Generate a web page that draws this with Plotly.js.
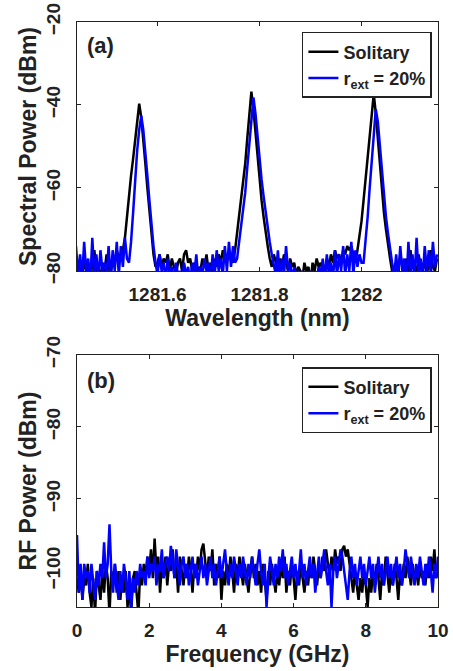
<!DOCTYPE html>
<html>
<head>
<meta charset="utf-8">
<script src="https://cdn.plot.ly/plotly-3.0.1.min.js"></script>
<style>html,body{margin:0;padding:0;background:#fff;}#plot{width:453px;height:671px;}</style>
</head>
<body>
<div id="plot"></div>
<script>
// ---------- Panel (a): optical spectrum ----------
const wlStart = 1281.44;   // nm, first sample
const wlStep = 0.004;      // nm per sample
const wlTickVals = [1281.6, 1281.8, 1282];
const wlTickText = ['1281.6', '1281.8', '1282'];

const specSolitary = [
-76,-80,-78,-82,-77,-80,-79,-83,-78,-75,-80,-79,-82,-78,-80,-76,-79,-81,-77,-78,-75,-77,
-77,-75,-72,-67,-61,-57,-53,-48,-43,-39.7,-43,-48,-54,-60,-65,-71,-76,-79,
-78,-76,-79,-77,-78,-76,-80,-77,-79,-81,-78,-77,-80,-76,-75,-78,-77,-80,-78,-82,-79,-80,-77,-79,-76,-80,-78,-81,-77,-79,-76,-78,-75,-77,-76,-77,-77,
-78,-75,-71,-67,-63,-59,-54,-48,-42,-36.8,-41,-47,-53,-58,-63,-67,-71,-74,-77,
-79,-76,-78,-80,-77,-79,-76,-78,-80,-77,-79,-78,-81,-79,-80,-82,-78,-80,-79,-83,-78,-80,-77,-79,-78,-80,-81,-77,-79,-76,-78,-75,-77,-76,-78,-75,-76,-74,-75,-74,-76,
-78,-75,-72,-68,-63,-58,-53,-48,-42,-37.3,-42,-48,-54,-61,-66,-70,-74,-77,-80,
-82,-78,-80,-76,-79,-81,-77,-80,-75,-79,-78,-82,-76,-79,-80,-77,-81,-78,-75,-79,-80,-77
];

const specExt20 = [
-74,-81,-76,-82,-73,-80,-77,-83,-72,-81,-76,-82,-75,-80,-78,-81,-74,-82,-75,-80,-73,-81,-74,-79,-72,-77,
-78,-73,-66,-58,-51,-46,-42.6,-46,-51,-57,-63,-69,-74,-78,
-81,-76,-80,-78,-82,-77,-81,-79,-83,-78,-81,-80,-82,-78,-81,-79,-83,-78,-81,-76,-82,-79,-81,-77,-80,-78,-82,-76,-81,-75,-80,-77,-81,-74,-80,-73,-79,-74,-78,
-77,-73,-70,-66,-61,-55,-49,-43,-38.2,-42,-48,-53,-58,-62,-66,-70,-73,-76,-79,
-81,-75,-82,-77,-81,-74,-80,-78,-82,-79,-81,-80,-83,-80,-82,-81,-83,-80,-81,-81,-82,-79,-81,-77,-82,-76,-81,-78,-82,-75,-81,-76,-80,-74,-81,-76,-80,-73,-81,-75,-79,-76,-78,
-78,-73,-67,-60,-53,-46,-41,-44,-50,-56,-62,-67,-71,-75,-78,
-81,-76,-82,-74,-80,-77,-83,-73,-81,-76,-82,-72,-81,-77,-82,-74,-80,-75,-81,-73,-79,-76
];

// ---------- Panel (b): RF spectrum ----------
const fStart = 0;     // GHz
const fStep = 0.05;   // GHz per sample
const fTickVals = [0, 2, 4, 6, 8, 10];

const rfSolitary = [
-101,-103,-100,-104,-101,-102,-99,-103,-105,-101,-106,-100,-102,-104,-100,-103,-99,-101,-106,-100,-102,-99,-103,-100,-104,-101,-103,-100,-105,-102,-106,-101,-100,-104,-106,
-100,-102,-99,-101,-98,-100,-97,-101,-95.5,-100,-98,-103,-99,-101,-98,-102,-99,-100,-97,-101,-99,-103,-98,-100,-102,-99,-101,-98,-100,-103,-99,-101,-98,-100,-97,-96.2,
-99,-101,-98,-100,-97,-102,-99,-101,-98,-104,-100,-102,-99,-101,-98,-100,-103,-99,-101,-98,-100,-102,-99,-101,-103,-100,-98,-101,-99,-102,-100,-103,-99,-101,-104,-100,-102,-99,-101,-103,
-100,-102,-99,-101,-98,-103,-100,-102,-99,-101,-104,-100,-102,-99,-101,-103,-100,-102,-99,-101,-98,-100,-102,-99,-101,-98,-100,-97,-99,-101,-98,-100,-97,-99,-98,-100,-97,-96.5,-98,-97,
-99,-101,-103,-100,-102,-104,-101,-103,-100,-102,-105,-101,-103,-100,-102,-99,-101,-104,-100,-102,-98,-101,-103,-100,-102,-99,-101,-104,-100,-102,-99,-101,-98,-100,-102,-99,-101,-100,-102,-99,-101,-100,-102,-99,-101,-98,-100,-97,-101,-100
];

const rfExt20 = [
-95,-103,-99,-104,-99,-101,-100,-103,-99,-102,-104,-100,-102,-99,-101,-96,-101,-99,-93.5,-100,-103,-99,-102,-104,-100,-103,-99,-101,-104,-100,-105,-101,-103,-100,-102,
-99,-101,-100,-102,-98,-101,-99,-100,-98,-102,-99,-100,-97,-101,-99,-98,-100,-96.5,-99,-101,-97,-100,-102,-99,-98,-101,-99,-102,-100,-98,-101,-99,-102,-100,-98,-101,
-99,-102,-100,-98,-101,-99,-102,-100,-98,-101,-99,-97,-100,-102,-99,-101,-98,-100,-102,-99,-101,-98,-100,-102,-99,-101,-98,-100,-102,-99,-97,-100,-102,-99,-105,-101,-98,-100,-102,-99,
-101,-98,-100,-97,-101,-99,-102,-100,-98,-101,-99,-102,-100,-97,-101,-99,-102,-100,-98,-101,-99,-103,-100,-98,-101,-99,-97,-100,-102,-99,-105,-100,-98,-101,-99,-97,-98,-100,-102,-104,
-100,-98,-101,-99,-102,-100,-98,-101,-99,-102,-100,-98,-101,-99,-103,-100,-98,-101,-99,-102,-100,-98,-101,-99,-102,-100,-98,-101,-99,-102,-100,-97,-99,-101,-98,-100,-102,-99,-101,-98,-100,-102,-99,-101,-98,-100,-103,-99,-101,-98
];

const seriesNames = ['Solitary', 'r<sub>ext</sub> = 20%'];
const panelLabels = ['(a)', '(b)'];

// ---------- styling ----------
const FONT = 'Liberation Sans, Arial, Helvetica, sans-serif';
const BLACK = '#000000';
const BLUE = '#0000ff';
const LW = 2.5;

const traces = [
  {x0: wlStart, dx: wlStep, y: specSolitary, type: 'scatter', mode: 'lines', name: seriesNames[0],
   line: {color: BLACK, width: LW}, xaxis: 'x', yaxis: 'y', legend: 'legend'},
  {x0: wlStart, dx: wlStep, y: specExt20, type: 'scatter', mode: 'lines', name: seriesNames[1],
   line: {color: BLUE, width: LW}, xaxis: 'x', yaxis: 'y', legend: 'legend'},
  {x0: fStart, dx: fStep, y: rfSolitary, type: 'scatter', mode: 'lines', name: seriesNames[0],
   line: {color: BLACK, width: LW}, xaxis: 'x2', yaxis: 'y2', legend: 'legend2'},
  {x0: fStart, dx: fStep, y: rfExt20, type: 'scatter', mode: 'lines', name: seriesNames[1],
   line: {color: BLUE, width: LW}, xaxis: 'x2', yaxis: 'y2', legend: 'legend2'}
];

const axisCommon = {
  showline: true, linecolor: '#222', linewidth: 1.2, mirror: 'ticks',
  ticks: 'inside', ticklen: 4, tickwidth: 1, tickcolor: '#222',
  showgrid: false, zeroline: false,
  tickfont: {family: FONT, size: 19, color: '#222', weight: 'bold'}
};
const titleFont = {family: FONT, size: 23, color: '#222', weight: 'bold'};
const legendCommon = {
  bgcolor: '#ffffff', bordercolor: '#222', borderwidth: 1.5,
  font: {family: FONT, size: 18, color: '#222', weight: 'bold'},
  xanchor: 'left', yanchor: 'top', itemwidth: 30, tracegroupgap: 0
};

const layout = {
  width: 453, height: 671,
  margin: {l: 77, r: 15, t: 22, b: 64},
  paper_bgcolor: '#ffffff', plot_bgcolor: '#ffffff',
  showlegend: true,
  xaxis: Object.assign({}, axisCommon, {
    anchor: 'y', domain: [0, 1], range: [1281.442, 1282.15],
    tickvals: wlTickVals, ticktext: wlTickText, ticklabelstandoff: 6,
    title: {text: 'Wavelength (nm)', font: titleFont, standoff: 3}
  }),
  yaxis: Object.assign({}, axisCommon, {
    anchor: 'x', domain: [0.5744, 1], range: [-80, -20], dtick: 20, tickangle: -90, ticklabelstandoff: 8,
    title: {text: 'Spectral Power (dBm)', font: titleFont, standoff: 0}
  }),
  xaxis2: Object.assign({}, axisCommon, {
    anchor: 'y2', domain: [0, 1], range: [0, 10],
    tickvals: fTickVals, ticklabelstandoff: 6,
    title: {text: 'Frequency (GHz)', font: titleFont, standoff: 3}
  }),
  yaxis2: Object.assign({}, axisCommon, {
    anchor: 'x2', domain: [0, 0.4308], range: [-105, -70], dtick: 10, tickangle: -90, ticklabelstandoff: 8,
    title: {text: 'RF Power (dBm)', font: titleFont, standoff: 0}
  }),
  legend: Object.assign({}, legendCommon, {x: 0.623, y: 0.983}),
  legend2: Object.assign({}, legendCommon, {x: 0.623, y: 0.410}),
  annotations: [
    {text: panelLabels[0], xref: 'paper', yref: 'paper', x: 0.022, y: 0.96, xanchor: 'left', yanchor: 'middle',
     showarrow: false, font: {family: FONT, size: 22, color: '#222', weight: 'bold'}},
    {text: panelLabels[1], xref: 'paper', yref: 'paper', x: 0.022, y: 0.388, xanchor: 'left', yanchor: 'middle',
     showarrow: false, font: {family: FONT, size: 22, color: '#222', weight: 'bold'}}
  ]
};

Plotly.newPlot('plot', traces, layout, {displayModeBar: false, staticPlot: true});
</script>
</body>
</html>
